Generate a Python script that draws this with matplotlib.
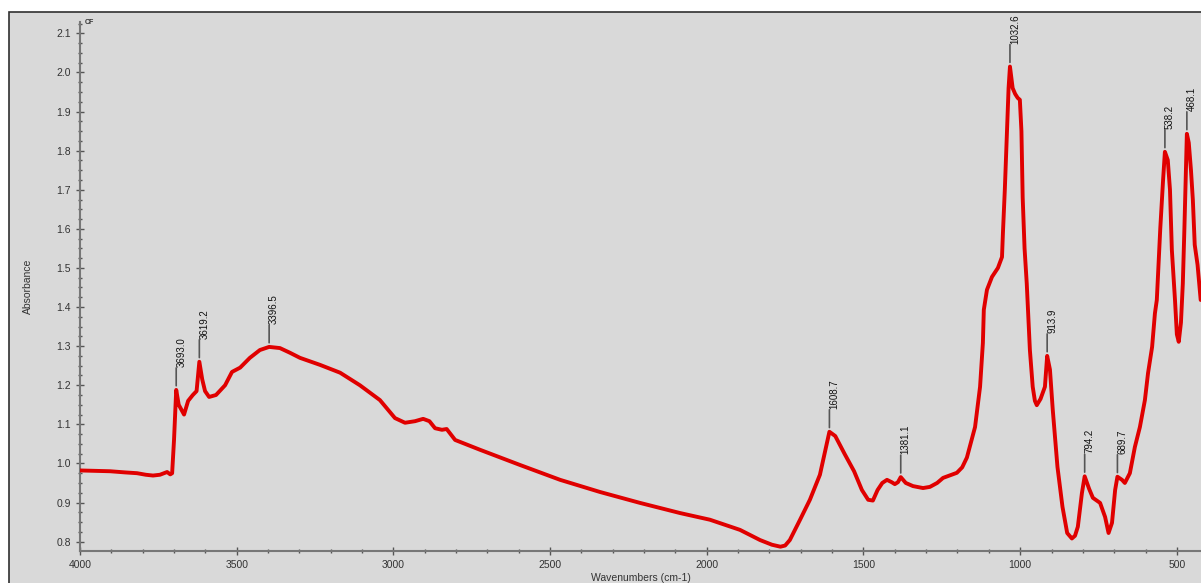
import matplotlib
matplotlib.use("Agg")
import matplotlib.pyplot as plt
from matplotlib.patches import Rectangle
from matplotlib.ticker import MultipleLocator


#---------
# DATA
#---------

# IR spectrum, wavenumber (cm-1) vs absorbance
wavenumber = [
    4000, 3950, 3904, 3856, 3818, 3790, 3767, 3745, 3722, 3712, 3706, 3700,
    3693.0, 3685, 3668, 3655, 3640, 3628, 3619.2, 3610, 3601, 3588, 3566,
    3537, 3515, 3489, 3458, 3426, 3396.5, 3362, 3330, 3298, 3234, 3170,
    3107, 3043, 2995, 2963, 2931, 2905, 2885, 2867, 2845, 2830, 2803, 2724,
    2596, 2468, 2341, 2213, 2085, 1990, 1894, 1830, 1792, 1765, 1750, 1735,
    1703, 1671, 1639, 1620, 1608.7, 1590, 1560, 1530, 1505, 1485, 1470,
    1455, 1440, 1425, 1410, 1400, 1390, 1381.1, 1365, 1342, 1310, 1288,
    1265, 1246, 1202, 1185, 1170, 1144, 1128, 1119, 1116, 1106, 1090, 1071,
    1058, 1055, 1049, 1042, 1037, 1032.6, 1024, 1016, 1008, 1001, 996, 992,
    986, 979, 969, 960, 953, 947, 935, 921, 913.9, 905, 896, 881, 865, 850,
    835, 825, 816, 803, 794.2, 780, 768, 745, 729, 718, 707, 697, 689.7,
    675, 666, 650, 634, 618, 602, 592, 579, 570, 564, 553, 544, 538.2, 529,
    522, 516, 506, 500, 494, 487, 481, 476, 472, 468.1, 462, 455, 449, 443,
    434, 424,
]
absorbance = [
    0.982, 0.981, 0.980, 0.977, 0.975, 0.971, 0.969, 0.971, 0.978, 0.972,
    0.975, 1.060,
    1.188, 1.150, 1.125, 1.160, 1.175, 1.185, 1.260, 1.215, 1.185, 1.170,
    1.175, 1.200, 1.234, 1.245, 1.270, 1.290, 1.298, 1.295, 1.283, 1.270,
    1.252, 1.232, 1.200, 1.162, 1.116, 1.104, 1.108, 1.114, 1.108, 1.090,
    1.086, 1.088, 1.060, 1.035, 0.996, 0.958, 0.927, 0.899, 0.873, 0.856,
    0.830, 0.804, 0.792, 0.787, 0.790, 0.804, 0.855, 0.907, 0.971, 1.040,
    1.081, 1.070, 1.024, 0.980, 0.932, 0.907, 0.905, 0.932, 0.950, 0.958,
    0.952, 0.947, 0.952, 0.965, 0.950, 0.942, 0.937, 0.940, 0.950, 0.963,
    0.976, 0.990, 1.015, 1.093, 1.196, 1.308, 1.393, 1.444, 1.477, 1.500,
    1.528, 1.590, 1.700, 1.850, 1.960, 2.015, 1.960, 1.945, 1.935, 1.930,
    1.850, 1.680, 1.550, 1.460, 1.290, 1.196, 1.160, 1.149, 1.165, 1.196,
    1.275, 1.240, 1.137, 0.991, 0.889, 0.822, 0.808, 0.815, 0.838, 0.924,
    0.967, 0.935, 0.912, 0.899, 0.863, 0.822, 0.848, 0.932, 0.966, 0.958,
    0.950, 0.975, 1.042, 1.093, 1.162, 1.231, 1.298, 1.384, 1.418, 1.600,
    1.725, 1.797, 1.776, 1.700, 1.546, 1.418, 1.330, 1.311, 1.360, 1.460,
    1.600, 1.725, 1.843, 1.820, 1.750, 1.674, 1.559, 1.508, 1.418,
]

# picked peaks
peak_wn = [3693.0, 3619.2, 3396.5, 1608.7, 1381.1, 1032.6, 913.9, 794.2,
           689.7, 538.2, 468.1]


#---------
# PLOT
#---------

plt.rcParams['font.family'] = ['Liberation Sans', 'DejaVu Sans']
narrow = ['Liberation Sans Narrow', 'Liberation Sans', 'DejaVu Sans']

panel = '#d9d9d9'
fig = plt.figure(figsize=(12.01, 5.83), dpi=100, facecolor='white')
fig.patches.append(Rectangle((9 / 1201, -0.01), 1.0, 0.989,
                             transform=fig.transFigure, facecolor=panel,
                             edgecolor='#303030', linewidth=1.2, zorder=-5))

ax = fig.add_axes([80 / 1201, 32 / 583, 1 - 80 / 1201, 529 / 583])
ax.set_facecolor(panel)

ax.plot(wavenumber, absorbance, color='#e00000', linewidth=2.8,
        solid_joinstyle='round', solid_capstyle='round', zorder=3)

# peak markers with vertical labels
for wn in peak_wn:
    a = absorbance[wavenumber.index(wn)]
    ax.annotate('', xy=(wn, a), xytext=(0, 22), textcoords='offset pixels',
                arrowprops=dict(arrowstyle='-', color='#555555', lw=1.2,
                                shrinkA=0, shrinkB=3))
    ax.annotate('%.1f' % wn, xy=(wn, a), xytext=(5, 23),
                textcoords='offset pixels', rotation=90, ha='center',
                va='bottom', fontsize=7, color='#111111', family=narrow)

ax.set_xlim(4000, 423)
ax.set_ylim(0.776, 2.129)

ax.xaxis.set_major_locator(MultipleLocator(500))
ax.xaxis.set_minor_locator(MultipleLocator(100))
ax.yaxis.set_major_locator(MultipleLocator(0.1))
ax.yaxis.set_minor_locator(MultipleLocator(0.025))
ax.tick_params(which='both', direction='inout', color='#555555',
               labelsize=7.5, labelcolor='#333333', width=1)
ax.tick_params(which='major', length=6)
ax.tick_params(which='minor', length=3)
ax.yaxis.set_major_formatter(plt.FuncFormatter(lambda v, p: '%.1f' % v))

for side in ['top', 'right']:
    ax.spines[side].set_visible(False)
for side in ['left', 'bottom']:
    ax.spines[side].set_color('#777777')
    ax.spines[side].set_linewidth(1.5)

ax.set_xlabel('Wavenumbers (cm-1)', fontsize=7.5, color='#333333', labelpad=2)
ax.set_ylabel('Absorbance', fontsize=7.5, color='#333333', labelpad=17)
ax.text(0.004, 1.0, 'CF', transform=ax.transAxes, fontsize=5,
        fontweight='bold', color='#333333', va='center', ha='left')

fig.savefig('out.png', dpi=100, facecolor='white')
